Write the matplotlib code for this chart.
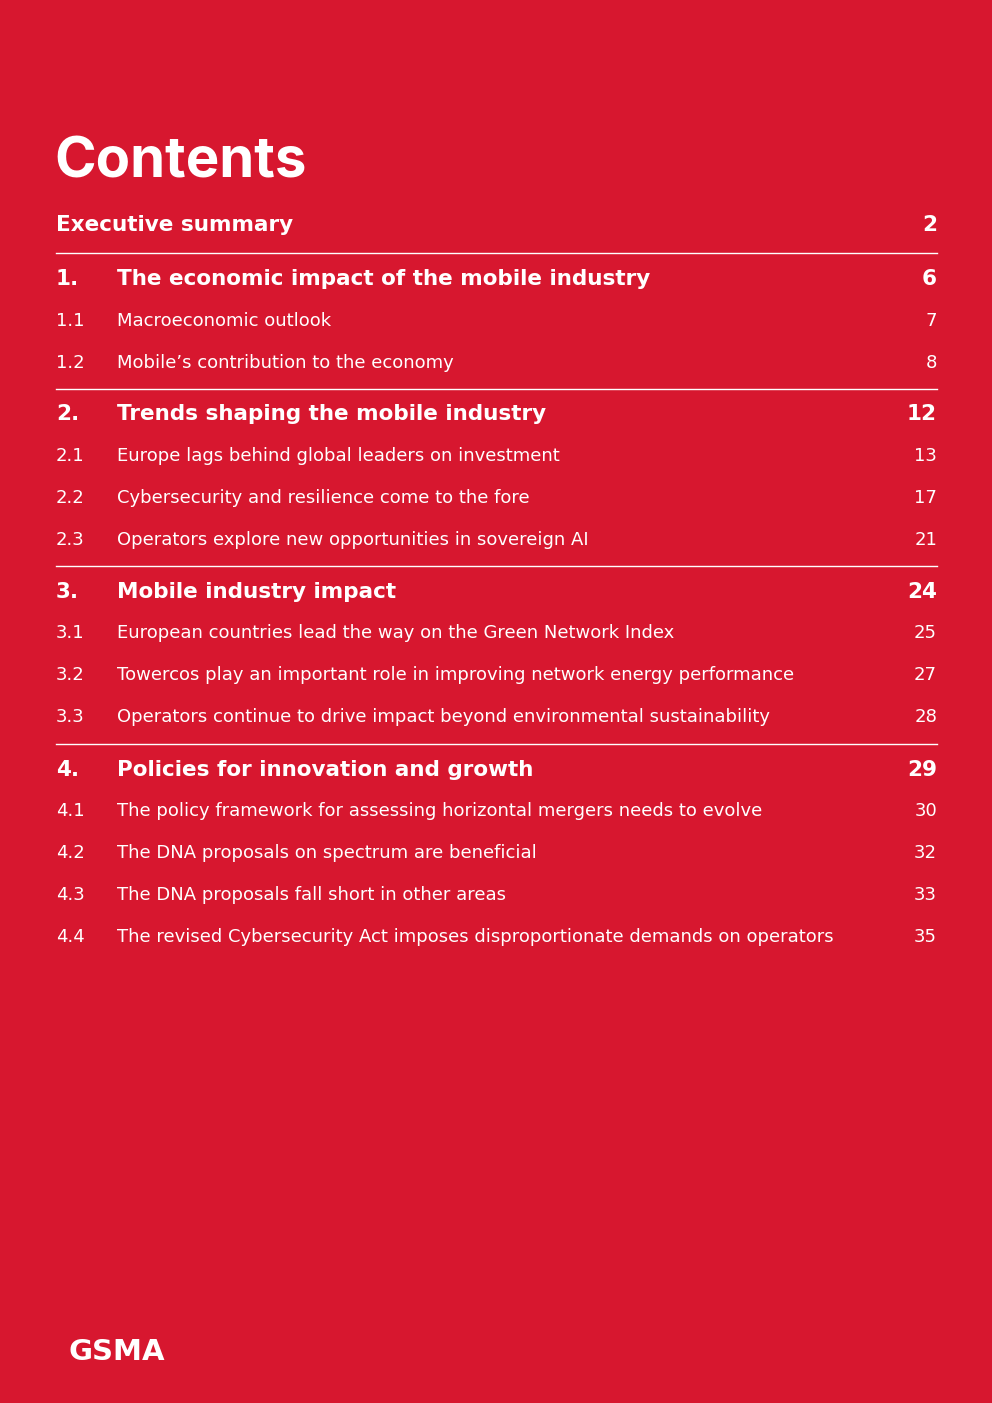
import matplotlib
matplotlib.use("Agg")
import matplotlib.pyplot as plt

FUNDO = "#d7172f"
BRANCO = "#ffffff"
FONTE_TITULO = ["Inter", "DejaVu Sans"]
FONTE = ["DejaVu Sans"]

TITULO = "Contents"

# capítulos: número, título, página
CAP_NUMEROS = ["", "1.", "2.", "3.", "4."]
CAP_TITULOS = [
    "Executive summary",
    "The economic impact of the mobile industry",
    "Trends shaping the mobile industry",
    "Mobile industry impact",
    "Policies for innovation and growth",
]
CAP_PAGINAS = ["2", "6", "12", "24", "29"]

# secções de cada capítulo
SEC_NUMEROS = [
    [],
    ["1.1", "1.2"],
    ["2.1", "2.2", "2.3"],
    ["3.1", "3.2", "3.3"],
    ["4.1", "4.2", "4.3", "4.4"],
]
SEC_TITULOS = [
    [],
    ["Macroeconomic outlook", "Mobile’s contribution to the economy"],
    [
        "Europe lags behind global leaders on investment",
        "Cybersecurity and resilience come to the fore",
        "Operators explore new opportunities in sovereign AI",
    ],
    [
        "European countries lead the way on the Green Network Index",
        "Towercos play an important role in improving network energy performance",
        "Operators continue to drive impact beyond environmental sustainability",
    ],
    [
        "The policy framework for assessing horizontal mergers needs to evolve",
        "The DNA proposals on spectrum are beneficial",
        "The DNA proposals fall short in other areas",
        "The revised Cybersecurity Act imposes disproportionate demands on operators",
    ],
]
SEC_PAGINAS = [
    [],
    ["7", "8"],
    ["13", "17", "21"],
    ["25", "27", "28"],
    ["30", "32", "33", "35"],
]

fig = plt.figure(figsize=(9.92, 14.03), dpi=100, facecolor=FUNDO)
ax = fig.add_axes([0, 0, 1, 1])
ax.set_facecolor(FUNDO)
ax.set_xlim(0, 992)
ax.set_ylim(1403, 0)
ax.axis("off")

X_NUM = 56
X_TIT = 117
X_PAG = 937
TAM_CAP = 15.5
TAM_SEC = 13.0

ax.text(X_NUM - 2, 178, TITULO, color=BRANCO, fontsize=40.5, fontweight="bold",
        family=FONTE_TITULO, va="baseline", ha="left")

y = 231
for i in range(len(CAP_TITULOS)):
    if i > 0:
        ax.plot([X_NUM, X_PAG], [y - 32, y - 32], color=BRANCO, lw=1.0)
    x_tit = X_TIT if CAP_NUMEROS[i] else X_NUM
    ax.text(X_NUM, y, CAP_NUMEROS[i], color=BRANCO, fontsize=TAM_CAP, fontweight="bold",
            family=FONTE, va="baseline", ha="left")
    ax.text(x_tit, y, CAP_TITULOS[i], color=BRANCO, fontsize=TAM_CAP, fontweight="bold",
            family=FONTE, va="baseline", ha="left")
    ax.text(X_PAG, y, CAP_PAGINAS[i], color=BRANCO, fontsize=TAM_CAP, fontweight="bold",
            family=FONTE, va="baseline", ha="right")
    ys = y + 40.5
    for num, tit, pag in zip(SEC_NUMEROS[i], SEC_TITULOS[i], SEC_PAGINAS[i]):
        ax.text(X_NUM, ys, num, color=BRANCO, fontsize=TAM_SEC, family=FONTE,
                va="baseline", ha="left")
        ax.text(X_TIT, ys, tit, color=BRANCO, fontsize=TAM_SEC, family=FONTE,
                va="baseline", ha="left")
        ax.text(X_PAG, ys, pag, color=BRANCO, fontsize=TAM_SEC, family=FONTE,
                va="baseline", ha="right")
        ys += 42
    if i == 0:
        y = 285
    else:
        y = ys - 42 + 53

# logotipo GSMA
ax.text(117, 1360, "GSMA", color=BRANCO, fontsize=21, fontweight="bold",
        family=FONTE, va="baseline", ha="center")

plt.savefig("out.png", dpi=100, facecolor=FUNDO)
